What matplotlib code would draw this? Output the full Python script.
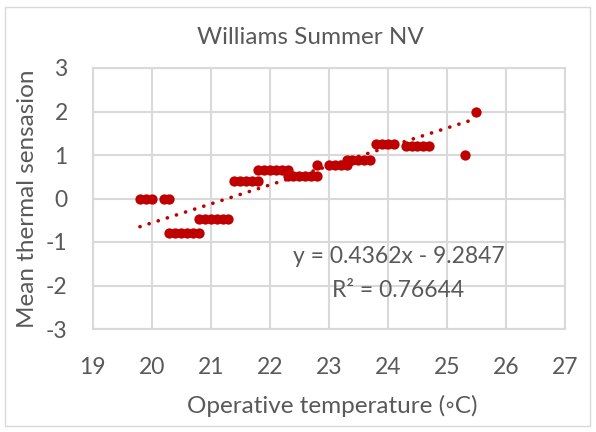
import matplotlib
matplotlib.use("Agg")
import matplotlib.pyplot as plt
import numpy as np
from matplotlib.patches import Rectangle

plt.rcParams['font.family'] = ['Lato', 'DejaVu Sans']
plt.rcParams['axes.unicode_minus'] = False

# Data
temp = [19.8, 19.9, 20.0, 20.2, 20.3,
        20.3, 20.4, 20.5, 20.6, 20.7, 20.8,
        20.8, 20.9, 21.0, 21.1, 21.2, 21.3,
        21.4, 21.5, 21.6, 21.7, 21.8,
        21.8, 21.9, 22.0, 22.1, 22.2, 22.3,
        22.3, 22.4, 22.5, 22.6, 22.7, 22.8,
        22.8,
        23.0, 23.1, 23.2, 23.3,
        23.3, 23.4, 23.5, 23.6, 23.7,
        23.8, 23.9, 24.0, 24.1,
        24.3, 24.4, 24.5, 24.6, 24.7,
        25.3, 25.5]
sensation = [0, 0, 0, 0, 0,
             -0.8, -0.8, -0.8, -0.8, -0.8, -0.8,
             -0.47, -0.47, -0.47, -0.47, -0.47, -0.47,
             0.41, 0.41, 0.41, 0.41, 0.41,
             0.65, 0.65, 0.65, 0.65, 0.65, 0.65,
             0.52, 0.52, 0.52, 0.52, 0.52, 0.52,
             0.78,
             0.78, 0.78, 0.78, 0.78,
             0.88, 0.88, 0.88, 0.88, 0.88,
             1.25, 1.25, 1.25, 1.25,
             1.2, 1.2, 1.2, 1.2, 1.2,
             1.0, 2.0]
slope = 0.4362
intercept = -9.2847
r2 = 0.76644
x_ticks = [19, 20, 21, 22, 23, 24, 25, 26, 27]
y_ticks = [-3, -2, -1, 0, 1, 2, 3]

red = '#C00000'
txt = '#595959'
grid = '#D9D9D9'

fig = plt.figure(figsize=(5.96, 4.32), dpi=100)
fig.patches.append(Rectangle((5/596, 1 - 426/432), 585/596, 419/432,
                             transform=fig.transFigure, fill=False,
                             edgecolor=grid, linewidth=1))
ax = fig.add_axes([92.7/596, 1 - 329/432, (565 - 92.7)/596, (329 - 68)/432])

ax.set_xlim(19, 27)
ax.set_ylim(-3, 3)
ax.set_xticks(x_ticks)
ax.set_yticks(y_ticks)
ax.grid(True, color=grid, linewidth=1.5)
ax.set_axisbelow(True)
for s in ax.spines.values():
    s.set_color(grid)
    s.set_linewidth(1.5)
ax.tick_params(length=0, labelsize=16.5, labelcolor=txt)
ax.tick_params(axis='x', pad=20)
ax.tick_params(axis='y', pad=18)

ax.scatter(temp, sensation, s=55, color=red, zorder=3, linewidths=0)

xl = np.array([min(temp), max(temp)])
ax.plot(xl, slope * xl + intercept, color=red, linewidth=2.6,
        linestyle=(0, (0.05, 2.6)), dash_capstyle='round', zorder=4)

ax.text(24.18, -1.33, f'y = {slope}x - {abs(intercept)}', fontsize=16.5,
        color=txt, ha='center', va='center')
ax.text(24.18, -2.12, f'R² = {r2}', fontsize=16.5, color=txt,
        ha='center', va='center')

fig.text(310/596, 1 - 37/432, 'Williams Summer NV', fontsize=17.5,
         color=txt, ha='center', va='center')
fig.text(332/596, 1 - 406/432, 'Operative temperature (◦C)', fontsize=17.5,
         color=txt, ha='center', va='center')
fig.text(28/596, 1 - 199/432, 'Mean thermal sensasion', fontsize=17.5,
         color=txt, ha='center', va='center', rotation=90)

fig.savefig('out.png', dpi=100)
